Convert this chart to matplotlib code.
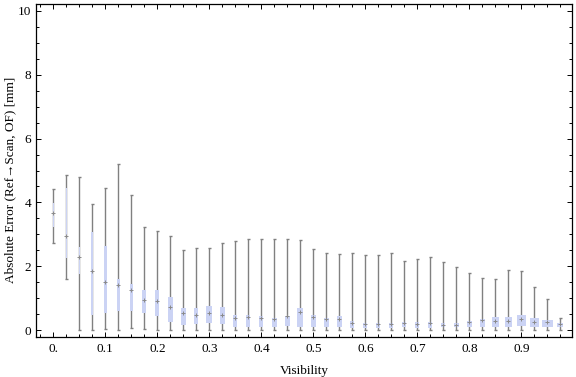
import numpy as np
import matplotlib
matplotlib.use("Agg")
import matplotlib.pyplot as plt
from matplotlib.ticker import MultipleLocator

# box-whisker stats per visibility bin
vis = [round(0.025 * i, 3) for i in range(40)]
lo = [2.74, 1.61, 0.0, 0.0, 0.05, 0.02, 0.08, 0.05, 0.0, 0.0,
      0.0, 0.0, 0.0, 0.0, 0.0, 0.0, 0.0, 0.0, 0.0, 0.0,
      0.0, 0.0, 0.0, 0.0, 0.0, 0.0, 0.0, 0.0, 0.0, 0.0,
      0.0, 0.0, 0.0, 0.0, 0.0, 0.0, 0.0, 0.0, 0.0, 0.0]
q1 = [3.24, 2.27, 1.77, 0.47, 0.55, 0.60, 0.60, 0.54, 0.45, 0.26,
      0.17, 0.20, 0.23, 0.20, 0.10, 0.10, 0.10, 0.09, 0.13, 0.10,
      0.10, 0.10, 0.10, 0.07, 0.07, 0.07, 0.07, 0.10, 0.07, 0.07,
      0.10, 0.10, 0.10, 0.10, 0.10, 0.10, 0.14, 0.10, 0.10, 0.10]
med = [3.66, 2.95, 2.30, 1.84, 1.52, 1.42, 1.25, 0.96, 0.91, 0.73,
       0.54, 0.48, 0.54, 0.49, 0.39, 0.42, 0.40, 0.34, 0.44, 0.56,
       0.41, 0.34, 0.34, 0.23, 0.21, 0.20, 0.20, 0.22, 0.20, 0.22,
       0.17, 0.18, 0.26, 0.31, 0.30, 0.30, 0.34, 0.27, 0.25, 0.20]
q3 = [3.97, 4.44, 2.61, 3.07, 2.64, 1.60, 1.46, 1.25, 1.25, 1.03,
      0.71, 0.69, 0.75, 0.72, 0.47, 0.47, 0.44, 0.38, 0.44, 0.69,
      0.47, 0.39, 0.44, 0.28, 0.23, 0.24, 0.23, 0.26, 0.26, 0.26,
      0.24, 0.23, 0.28, 0.34, 0.41, 0.41, 0.47, 0.38, 0.31, 0.23]
hi = [4.43, 4.86, 4.80, 3.95, 4.45, 5.20, 4.22, 3.22, 3.11, 2.95,
      2.50, 2.59, 2.59, 2.73, 2.78, 2.87, 2.87, 2.87, 2.87, 2.81,
      2.53, 2.41, 2.40, 2.43, 2.37, 2.37, 2.43, 2.18, 2.22, 2.28,
      2.15, 1.97, 1.78, 1.65, 1.59, 1.90, 1.84, 1.37, 0.99, 0.37]
# box widths in visibility units (boxes get wider/narrower per bin)
box_w = [0.0033, 0.0033, 0.0033, 0.0039, 0.0052, 0.0044, 0.0064, 0.0077, 0.0077, 0.0091,
         0.0083, 0.0077, 0.0110, 0.0097, 0.0077, 0.0083, 0.0083, 0.0097, 0.0097, 0.0116,
         0.0102, 0.0091, 0.0091, 0.0077, 0.0077, 0.0077, 0.0077, 0.0077, 0.0077, 0.0077,
         0.0077, 0.0097, 0.0097, 0.0097, 0.0129, 0.0129, 0.0168, 0.0174, 0.0207, 0.0110]

vis = np.array(vis)
lo, q1, med, q3, hi = map(np.array, (lo, q1, med, q3, hi))

plt.rcParams["font.family"] = ["Liberation Serif", "DejaVu Serif"]

fig = plt.figure(figsize=(5.76, 3.77), dpi=100)
ax = fig.add_axes([36 / 576, 1 - 337 / 377, 536 / 576, 333 / 377])

whisk = "#808080"
cap = 0.003
ax.vlines(vis, lo, hi, color=whisk, lw=1.0, zorder=2)
ax.hlines(hi, vis - cap, vis + cap, color=whisk, lw=1.0, zorder=2)
ax.hlines(lo, vis - cap, vis + cap, color=whisk, lw=1.0, zorder=2)
ax.bar(vis, q3 - q1, bottom=q1, width=box_w, color="#cbd3f4",
       linewidth=0, zorder=3)
ax.plot(vis, med, "+", color="#8a8a8a", ms=2.6, mew=0.7, zorder=4)

ax.set_xlim(-0.0334, 0.9975)
ax.set_ylim(-0.21, 10.21)
ax.set_xticks(np.arange(0, 0.95, 0.1))
ax.set_xticklabels(["0."] + [f"{v:.1f}" for v in np.arange(0.1, 0.95, 0.1)])
ax.xaxis.set_minor_locator(MultipleLocator(0.025))
ax.set_yticks(range(0, 11, 2))
ax.yaxis.set_minor_locator(MultipleLocator(0.5))
ax.tick_params(which="both", direction="in", top=True, right=True,
               labelsize=9.5, width=0.7, pad=3.5)
ax.tick_params(axis="x", pad=4.5)
ax.tick_params(which="major", length=3.5)
ax.tick_params(which="minor", length=2)
for s in ax.spines.values():
    s.set_linewidth(0.9)

ax.set_xlabel("Visibility", fontsize=9.5, labelpad=7)
ax.set_ylabel("Absolute Error (Ref\u2192Scan, OF) [mm]", fontsize=9.5)
ax.yaxis.set_label_coords(-0.036, 0.471)

fig.savefig("out.png", dpi=100)
